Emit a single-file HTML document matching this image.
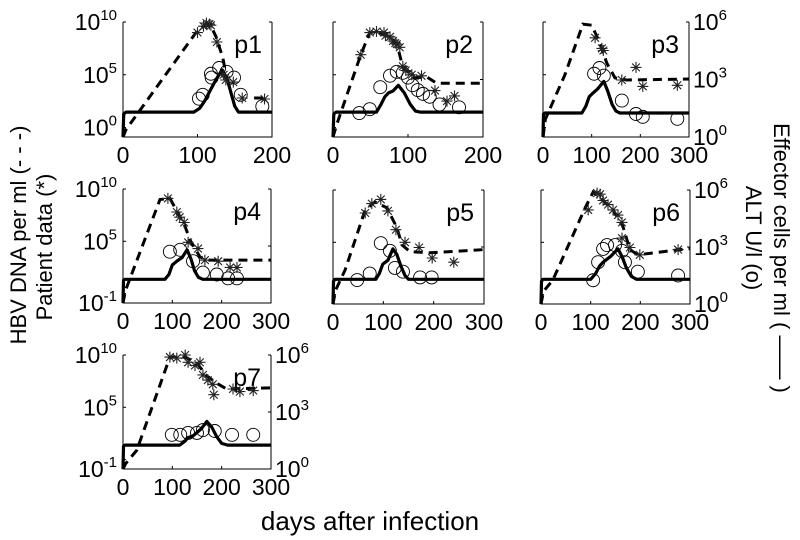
<!DOCTYPE html>
<html><head><meta charset="utf-8"><style>
body{margin:0;background:#fff;}
svg{display:block;font-family:"Liberation Sans",Arial,sans-serif;}
</style></head><body>
<svg id="fig" width="800" height="540" viewBox="0 0 800 540">
<text x="0" y="0" transform="translate(26,235) rotate(-90)" text-anchor="middle" font-size="22">HBV DNA per ml (- - -)</text>
<text x="0" y="0" transform="translate(52,247) rotate(-90)" text-anchor="middle" font-size="22">Patient data (*)</text>
<text x="0" y="0" transform="translate(774,258) rotate(90)" text-anchor="middle" font-size="22">Effector cells per ml ( —— )</text>
<text x="0" y="0" transform="translate(746,238) rotate(90)" text-anchor="middle" font-size="22">ALT U/l (o)</text>
<text x="370" y="530" text-anchor="middle" font-size="26">days after infection</text>
</svg>
<script>
const panelNames = ["p1","p2","p3","p4","p5","p6","p7"];
const xMax = [200,200,300,300,300,300,300];
const xTicks = [[0,100,200],[0,100,200],[0,100,200,300],[0,100,200,300],[0,100,200,300],[0,100,200,300],[0,100,200,300]];
const leftTickExp = [[10,5,0],[],[],[10,5,-1],[],[],[10,5,-1]];
const rightTickExp = [[],[],[6,3,0],[],[],[6,3,0],[6,3,0]];
const modelVirusT = [
 [0,4,98,110,118,125,134,137,null,176,190],
 [0,5,37,49,58,70,85,93,109,125,138,200],
 [0,5,45,82,100,117,131,148,172,300],
 [0,5,75,95,110,126,136,156,175,300],
 [0,5,24,64,83,107,127,137,153,193,300],
 [0,5,24,89,105,125,145,165,179,195,280,300],
 [0,5,28,95,126,150,170,190,210,250,300]];
const modelVirusLog = [
 [-0.9,-0.2,9.0,9.7,9.6,8.6,6.6,5.5,null,2.8,2.8],
 [-0.9,0.3,6.9,9.0,9.1,8.8,8.0,5.7,4.7,4.8,4.2,4.2],
 [-0.9,0.8,5.0,9.8,9.7,8.0,6.1,4.7,4.5,4.6],
 [-0.9,0.3,9.0,9.1,7.8,6.4,5.1,3.5,3.2,3.2],
 [-0.9,0.4,2.35,8.1,8.85,8.3,6.4,4.75,4.1,4.0,4.3],
 [-0.9,0.3,1.4,8.3,9.8,9.0,8.1,6.5,4.3,3.8,4.3,4.4],
 [-0.9,-0.4,0.9,9.8,9.8,9.2,8.0,7.3,6.75,6.8,6.85]];
const modelEffT = [
 [0,1,4,95,103,110,118,125,133,140,145,150,155,200],
 [0,1,4,58,64,69,74,80,87,95,103,110,116,200],
 [0,1,4,80,88,95,103,112,125,133,142,150,158,300],
 [0,1,4,85,93,100,109,120,130,138,145,153,162,300],
 [0,1,4,85,92,99,109,119,127,135,143,150,157,300],
 [0,1,4,100,110,118,125,140,155,163,172,182,192,300],
 [0,1,4,115,125,132,142,158,170,180,190,200,212,300]];
const modelEffLog = [
 [0,1.2,1.3,1.3,1.5,1.9,2.5,3.0,3.5,3.0,2.3,1.6,1.3,1.3],
 [0,1.2,1.3,1.3,1.7,2.1,2.3,2.4,2.7,2.3,1.7,1.35,1.3,1.3],
 [0,1.2,1.25,1.25,1.6,2.1,2.3,2.5,2.9,2.4,1.7,1.35,1.25,1.25],
 [0,1.2,1.25,1.25,1.5,2.0,2.2,2.4,2.8,2.3,1.7,1.35,1.25,1.25],
 [0,1.2,1.3,1.3,1.6,2.1,2.3,2.9,2.6,2.0,1.5,1.3,1.3,1.3],
 [0,1.2,1.3,1.3,1.6,2.0,2.2,2.5,2.9,2.5,1.9,1.45,1.3,1.3],
 [0,1.2,1.26,1.26,1.45,1.65,1.75,2.1,2.5,2.2,1.7,1.35,1.26,1.26]];
const patientT = [
 [100,108,112,116,118,126,135,138,148,160,190],
 [37,49,58,68,70,76,80,83,85,89,93,97,105,118,136,152,162],
 [107,121,124,162,191,205,276],
 [91,109,115,124,132,152,166,193,217,231],
 [64,77,95,109,125,143,171,197,240],
 [95,113,119,125,135,145,155,163,163,179,199,276],
 [95,109,126,132,146,156,162,172,182,184,223,237,264]];
const patientLog = [
 [9.0,9.6,9.9,9.8,9.7,8.1,5.0,4.5,4.3,2.8,2.7],
 [6.9,9.0,9.1,9.0,8.7,8.6,8.2,8.0,7.9,7.6,5.8,5.4,5.0,4.9,3.5,2.5,3.0],
 [8.5,7.5,7.3,4.5,5.7,3.9,4.0],
 [9.1,7.8,7.3,6.8,4.9,4.3,3.2,3.1,2.5,2.5],
 [7.8,8.7,9.1,8.0,6.2,5.0,4.5,3.5,3.1],
 [8.1,9.7,9.6,9.0,8.6,8.1,7.6,6.9,5.4,4.5,3.8,4.3],
 [9.8,9.7,10.0,9.3,9.0,9.3,8.1,7.6,7.2,6.2,6.75,6.5,6.6]];
const altT = [
 [102,107,118,119,129,139,149,158,187],
 [35,49,63,76,85,93,100,106,113,120,129,142,168],
 [105,116,125,162,191,205,276],
 [95,116,142,162,190,213,231],
 [48,73,95,113,123,139,173,196],
 [105,115,125,133,149,163,169,195,276],
 [99,116,132,150,162,186,221,264]];
const altLog = [
 [2.0,2.2,3.3,3.1,3.6,3.4,3.1,2.2,1.6],
 [1.25,1.45,2.6,3.2,3.4,3.35,3.1,2.7,2.45,2.25,2.1,1.7,1.55],
 [3.3,3.6,3.2,1.9,1.2,1.05,0.95],
 [2.7,2.8,2.2,1.6,1.5,1.3,1.3],
 [1.26,1.6,3.2,2.8,1.9,1.7,1.4,1.4],
 [1.25,2.2,2.9,3.1,3.1,2.8,2.2,1.7,1.5],
 [1.8,1.8,1.9,1.9,2.05,2.0,1.8,1.8]];

const boxes = [[123,272,22,137],[333,483,22,137],[543,689,22,137],[123,271,189,303],[333,484,190,304],[541,690,190,304],[123,271,355,469]];
const LMIN=-0.9, LMAX=10, RMIN=0, RMAX=6;
const NS="http://www.w3.org/2000/svg";
const svg=document.getElementById('fig');
function mk(tag,attrs,parent){const e=document.createElementNS(NS,tag);for(const k in attrs)e.setAttribute(k,attrs[k]);(parent||svg).appendChild(e);return e;}
function powLabel(g,x,y,exp,anchor){
  const t=mk('text',{x:x,y:y,'font-size':23,'text-anchor':anchor},g);
  t.appendChild(document.createTextNode('10'));
  const s=mk('tspan',{dy:-10,'font-size':15},t);s.textContent=String(exp);
  return t;
}
panelNames.forEach((nm,i)=>{
  const [x0,x1,top,bot]=boxes[i];
  const g=mk('g',{});
  
  
  const xs=t=>x0+t/xMax[i]*(x1-x0);
  const yl=v=>bot-(v-LMIN)/(LMAX-LMIN)*(bot-top);
  const yr=v=>bot-(v-RMIN)/(RMAX-RMIN)*(bot-top);
  const ax=mk('path',{d:`M${x0},${top}V${bot}H${x1}V${top}`,fill:'none',stroke:'#000','stroke-width':1},g);
  
  
  xTicks[i].forEach(t=>{
    mk('line',{x1:xs(t),x2:xs(t),y1:bot,y2:bot-3,stroke:'#000'},g);
    const tl=mk('text',{x:xs(t),y:bot+26,'font-size':23,'text-anchor':'middle'},g);
    tl.textContent=String(t);
    
    
  });
  [0,5,10].forEach(v=>{mk('line',{x1:x0,x2:x0+3,y1:yl(v),y2:yl(v),stroke:'#000'},g);});
  [0,3,6].forEach(v=>{mk('line',{x1:x1,x2:x1-3,y1:yr(v),y2:yr(v),stroke:'#000'},g);});
  leftTickExp[i].forEach(e=>{
    const y=e<0?bot:yl(e);
    const tl=powLabel(g,x0-6,y+8,e,'end');
    
    
  });
  rightTickExp[i].forEach(e=>{
    const tl=powLabel(g,x1+4,yr(e)+8,e,'start');
    
    
  });
  const lab=mk('text',{x:x1-10,y:top+31,'font-size':25,'text-anchor':'end'},g);
  lab.textContent=nm;
  
  
  let d='',pen=false;
  modelVirusT[i].forEach((t,k)=>{
    const v=modelVirusLog[i][k];
    if(t===null||v===null){pen=false;return;}
    d+=(pen?'L':'M')+xs(t).toFixed(1)+','+yl(v).toFixed(1);pen=true;
  });
  const dl=mk('path',{d:d,fill:'none',stroke:'#000','stroke-width':3,'stroke-dasharray':'9 6'},g);
  
  
  let ds='';
  modelEffT[i].forEach((t,k)=>{ds+=(k?'L':'M')+xs(t).toFixed(1)+','+yr(modelEffLog[i][k]).toFixed(1);});
  const sl=mk('path',{d:ds,fill:'none',stroke:'#000','stroke-width':3.2,'stroke-linejoin':'round'},g);
  
  
  altT[i].forEach((t,k)=>{
    const c=mk('circle',{cx:xs(t),cy:yr(altLog[i][k]),r:6.5,fill:'none',stroke:'#000','stroke-width':0.9},g);
    
    
  });
  patientT[i].forEach((t,k)=>{
    const cx=xs(t),cy=yl(patientLog[i][k]),r=5.5;
    let p='';
    for(let a=0;a<4;a++){const an=a*Math.PI/4;const dx=r*Math.cos(an),dy=r*Math.sin(an);p+=`M${(cx-dx).toFixed(1)},${(cy-dy).toFixed(1)}L${(cx+dx).toFixed(1)},${(cy+dy).toFixed(1)}`;}
    const s=mk('path',{d:p,stroke:'#222','stroke-width':1.1},g);
    
    
  });
});
</script>
</body></html>
